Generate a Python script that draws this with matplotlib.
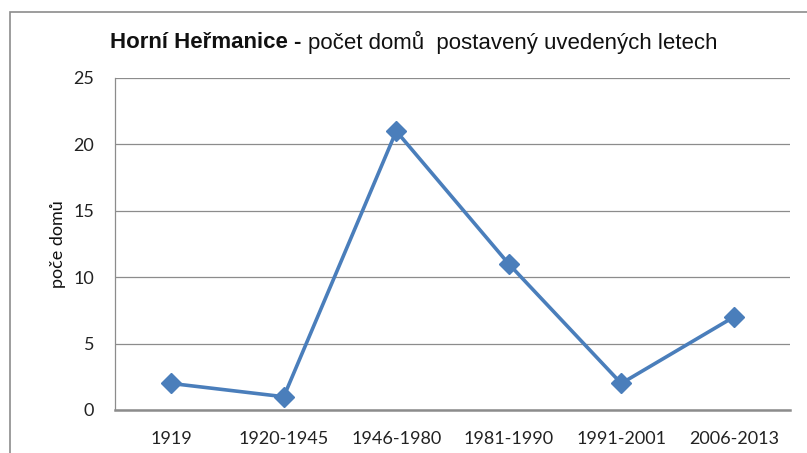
import matplotlib
matplotlib.use("Agg")
import matplotlib.pyplot as plt
from matplotlib.patches import Rectangle

periods = ["1919", "1920-1945", "1946-1980", "1981-1990", "1991-2001", "2006-2013"]
houses = [2, 1, 21, 11, 2, 7]
y_ticks = [0, 5, 10, 15, 20, 25]

W, H = 807, 453
fig = plt.figure(figsize=(W / 100, H / 100), dpi=100)

# outer chart frame (cut off at right and bottom like the screenshot)
frame = Rectangle((10 / W, -0.1), 1.2, 1 - 12 / H + 0.1, transform=fig.transFigure,
                  fill=False, edgecolor="#8c8c8c", linewidth=1.2, clip_on=False)
fig.patches.append(frame)

ax = fig.add_axes([115 / W, 1 - 410 / H, (790 - 115) / W, (410 - 78) / H])
ax.plot(range(len(periods)), houses, color="#4a7ebb", linewidth=2.6,
        marker="D", markersize=10, markeredgecolor="#4a7ebb", markerfacecolor="#4a7ebb")

ax.set_xlim(-0.5, len(periods) - 0.5)
ax.set_ylim(0, 25)
ax.set_yticks(y_ticks)
ax.set_xticks(range(len(periods)))
ax.set_xticklabels(periods)
ax.yaxis.grid(True, color="#8c8c8c", linewidth=0.9)
ax.set_axisbelow(True)

tick_font = ["Lato", "DejaVu Sans"]
for lab in ax.get_xticklabels() + ax.get_yticklabels():
    lab.set_family(tick_font)
    lab.set_fontsize(13)
    lab.set_color("#222222")
ax.tick_params(axis="both", length=0)
ax.tick_params(axis="x", pad=15)
ax.tick_params(axis="y", pad=15)

for side in ["top", "right"]:
    ax.spines[side].set_visible(False)
ax.spines["left"].set_color("#8c8c8c")
ax.spines["left"].set_linewidth(0.9)
ax.spines["bottom"].set_color("#8c8c8c")
ax.spines["bottom"].set_linewidth(1.8)

ax.set_ylabel("poče domů", family=tick_font, fontsize=13, color="#111111", labelpad=5)

# title: bold part followed by regular part
title_font = ["Liberation Sans Narrow", "Liberation Sans", "DejaVu Sans"]
t1 = fig.text(110 / W, 1 - 42 / H, "Horní Heřmanice - ", family=title_font,
              fontsize=16, fontweight="bold", va="center", ha="left", color="#111111")
fig.canvas.draw()
bb = t1.get_window_extent()
fig.text(bb.x1 / W, 1 - 42 / H, "počet domů  postavený uvedených letech", family=title_font,
         fontsize=16, va="center", ha="left", color="#111111")

fig.savefig("out.png", dpi=100)
